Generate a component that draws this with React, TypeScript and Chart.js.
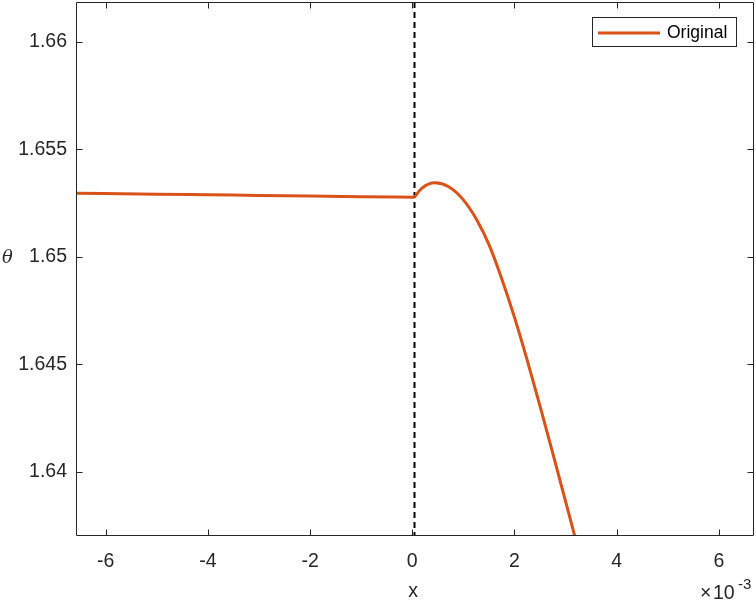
import React, { useEffect, useRef } from "react";
import { Chart, registerables } from "chart.js";

Chart.register(...registerables);

// x in units of 1e-3
const leftX = [-6.581, -5, -4, -3, -2, -1, 0.039];
const leftTheta = [1.652949, 1.65291, 1.65288, 1.65285, 1.65282, 1.65279, 1.652763];
const rightX = [0.039, 0.184, 0.444, 0.705, 0.992, 1.266, 1.501, 1.75, 2.0, 2.25, 2.5, 2.75, 3.0, 3.19];
const rightTheta = [1.652763, 1.653181, 1.653442, 1.653266, 1.652668, 1.6517, 1.650562, 1.64898, 1.64718, 1.64518, 1.643055, 1.640855, 1.638617, 1.636907];
const xTicks = [-6, -4, -2, 0, 2, 4, 6];
const xTickLabels = ["-6", "-4", "-2", "0", "2", "4", "6"];
const yTicks = [1.64, 1.645, 1.65, 1.655, 1.66];
const yTickLabels = ["1.64", "1.645", "1.65", "1.655", "1.66"];
const seriesName = "Original";
const markerX = 0.039;

const FONT = "'Liberation Sans', Arial, Helvetica, sans-serif";
const AXIS_COLOR = "#262626";
const LINE_COLOR = "#D95319";

const decorPlugin = {
  id: "decor",
  beforeDatasetsDraw(chart: any) {
    const { ctx, chartArea: a, scales } = chart;
    const xs = scales.x;
    const px = Math.round(xs.getPixelForValue(markerX)) + 0.5;
    ctx.save();
    ctx.strokeStyle = "#000";
    ctx.lineWidth = 2;
    ctx.setLineDash([6, 4]);
    ctx.beginPath();
    ctx.moveTo(px, a.top);
    ctx.lineTo(px, a.bottom);
    ctx.stroke();
    ctx.restore();
  },
  afterDraw(chart: any) {
    const { ctx, chartArea: a, scales } = chart;
    const xs = scales.x;
    const ys = scales.y;
    ctx.save();
    ctx.strokeStyle = AXIS_COLOR;
    ctx.lineWidth = 1;
    const L = Math.round(a.left) + 0.5;
    const R = Math.round(a.right) - 0.5;
    const T = Math.round(a.top) + 0.5;
    const B = Math.round(a.bottom) - 0.5;
    ctx.beginPath();
    ctx.rect(L, T, R - L, B - T);
    ctx.stroke();
    const tl = 6;
    ctx.beginPath();
    xTicks.forEach((v) => {
      const p = Math.round(xs.getPixelForValue(v)) + 0.5;
      ctx.moveTo(p, B);
      ctx.lineTo(p, B - tl);
      ctx.moveTo(p, T);
      ctx.lineTo(p, T + tl);
    });
    yTicks.forEach((v) => {
      const p = Math.round(ys.getPixelForValue(v)) + 0.5;
      ctx.moveTo(L, p);
      ctx.lineTo(L + tl, p);
      ctx.moveTo(R, p);
      ctx.lineTo(R - tl, p);
    });
    ctx.stroke();

    // axis labels
    ctx.fillStyle = AXIS_COLOR;
    ctx.font = `19.5px ${FONT}`;
    ctx.textAlign = "center";
    ctx.textBaseline = "alphabetic";
    ctx.fillText("x", Math.round(xs.getPixelForValue(0)) + 1, 597);
    ctx.font = `italic 18px "DejaVu Serif", "Liberation Serif", serif`;
    ctx.textAlign = "left";
    ctx.fillText("θ", 2, 263);

    // exponent
    ctx.font = `19.5px ${FONT}`;
    ctx.textAlign = "left";
    ctx.fillText("×", 700, 599);
    ctx.fillText("10", 713, 599);
    ctx.font = `15px ${FONT}`;
    ctx.fillText("-3", 738, 589);

    // legend
    ctx.fillStyle = "#fff";
    ctx.fillRect(592, 17, 145, 30);
    ctx.strokeStyle = AXIS_COLOR;
    ctx.lineWidth = 1;
    ctx.strokeRect(592.5, 17.5, 144, 29);
    ctx.strokeStyle = LINE_COLOR;
    ctx.lineWidth = 3;
    ctx.beginPath();
    ctx.moveTo(598, 33);
    ctx.lineTo(660, 33);
    ctx.stroke();
    ctx.fillStyle = "#000";
    ctx.font = `17.5px ${FONT}`;
    ctx.textBaseline = "middle";
    ctx.fillText(seriesName, 667, 33);
    ctx.restore();
  },
};

export default function App() {
  const ref = useRef<HTMLCanvasElement | null>(null);
  useEffect(() => {
    if (!ref.current) return;
    const common = {
      borderColor: LINE_COLOR,
      borderWidth: 3,
      pointRadius: 0,
      fill: false,
      cubicInterpolationMode: "monotone",
    };
    const chart = new Chart(ref.current, {
      type: "line",
      data: {
        datasets: [
          {
            ...common,
            label: seriesName,
            data: leftX.map((x, i) => ({ x, y: leftTheta[i] })),
          },
          {
            ...common,
            label: seriesName,
            data: rightX.map((x, i) => ({ x, y: rightTheta[i] })),
          },
        ],
      } as any,
      options: {
        responsive: false,
        animation: false,
        layout: { padding: { left: 0, right: 2, top: 2, bottom: 0 } },
        plugins: { legend: { display: false }, tooltip: { enabled: false } },
        scales: {
          x: {
            type: "linear",
            min: -6.581,
            max: 6.687,
            grid: { display: false, drawTicks: false, tickLength: 0 },
            border: { display: false },
            afterFit: (s: any) => {
              s.height = 67;
              s.paddingLeft = 0;
              s.paddingRight = 0;
            },
            afterBuildTicks: (s: any) => {
              s.ticks = xTicks.map((v) => ({ value: v }));
            },
            ticks: {
              padding: 14,
              color: AXIS_COLOR,
              font: { family: FONT, size: 19.5 },
              maxRotation: 0,
              autoSkip: false,
              callback: (v: any) => {
                const i = xTicks.indexOf(Number(v));
                return i >= 0 ? xTickLabels[i] : "";
              },
            },
          },
          y: {
            type: "linear",
            min: 1.63701,
            max: 1.661847,
            grid: { display: false, drawTicks: false, tickLength: 0 },
            border: { display: false },
            afterFit: (s: any) => {
              s.width = 76;
              s.paddingTop = 0;
              s.paddingBottom = 0;
            },
            afterBuildTicks: (s: any) => {
              s.ticks = yTicks.map((v) => ({ value: v }));
            },
            ticks: {
              padding: 9,
              color: AXIS_COLOR,
              font: { family: FONT, size: 19.5 },
              autoSkip: false,
              callback: (v: any) => {
                const i = yTicks.findIndex((t) => Math.abs(t - Number(v)) < 1e-9);
                return i >= 0 ? yTickLabels[i] : "";
              },
            },
          },
        },
      },
      plugins: [decorPlugin],
    });
    return () => chart.destroy();
  }, []);
  return (
    <div style={{ position: "fixed", left: 0, top: 0, width: 756, height: 603, background: "#fff" }}>
      <canvas ref={ref} width={756} height={603} style={{ display: "block" }} />
    </div>
  );
}
